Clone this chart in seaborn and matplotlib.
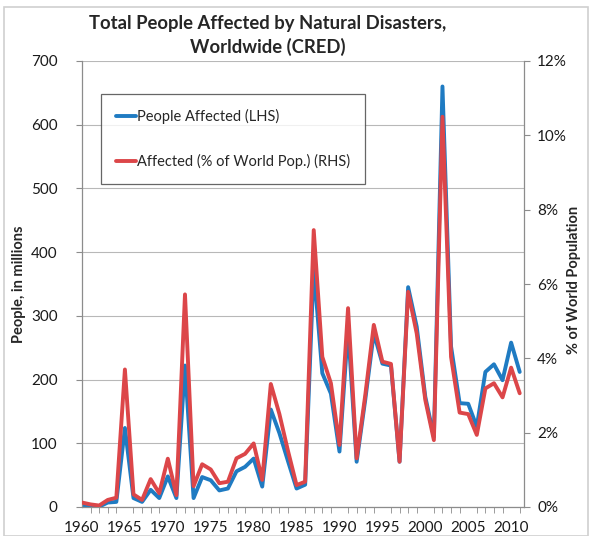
import matplotlib
matplotlib.use("Agg")
import matplotlib.pyplot as plt
import matplotlib.ticker as mticker
from matplotlib.patches import Rectangle
import seaborn as sns
import pandas as pd

years = list(range(1960, 2012))
people_affected_millions = [
    3, 1.5, 0.5, 7, 8, 124, 14, 8, 27, 14,
    48, 14, 222, 14, 47, 42, 26, 29, 56, 63,
    76, 32, 153, 116, 72, 29, 35, 375, 210, 178,
    87, 280, 71, 168, 273, 225, 222, 71, 345, 283,
    173, 110, 660, 252, 163, 162, 126, 212, 224, 199,
    258, 212,
]
pct_world_pop = [
    0.12, 0.07, 0.04, 0.19, 0.25, 3.70, 0.34, 0.19, 0.75, 0.37,
    1.30, 0.32, 5.72, 0.56, 1.15, 1.01, 0.64, 0.68, 1.31, 1.43,
    1.71, 0.73, 3.31, 2.50, 1.51, 0.59, 0.68, 7.45, 4.04, 3.33,
    1.67, 5.35, 1.31, 3.00, 4.90, 3.91, 3.85, 1.22, 5.79, 4.67,
    2.88, 1.80, 10.50, 4.04, 2.54, 2.50, 1.94, 3.19, 3.33, 2.95,
    3.75, 3.06,
]
left_ticks = [0, 100, 200, 300, 400, 500, 600, 700]
right_ticks = [0, 2, 4, 6, 8, 10, 12]
year_ticks = [1960, 1965, 1970, 1975, 1980, 1985, 1990, 1995, 2000, 2005, 2010]

df = pd.DataFrame({"year": years, "people": people_affected_millions, "pct": pct_world_pop})

sns.set_style("white")
plt.rcParams["font.family"] = ["Lato", "DejaVu Sans"]

BLUE = "#1f7bc2"
RED = "#dc4649"
GREY = "#8c8c8c"

fig = plt.figure(figsize=(5.9, 5.36), dpi=100)
ax = fig.add_axes([82 / 590, 1 - 507 / 536, (524 - 82) / 590, (507 - 61) / 536])
ax2 = ax.twinx()

sns.lineplot(data=df, x="year", y="people", ax=ax, color=BLUE, linewidth=2.8,
             label="People Affected (LHS)", legend=False)
sns.lineplot(data=df, x="year", y="pct", ax=ax2, color=RED, linewidth=2.8,
             label="Affected (% of World Pop.) (RHS)", legend=False)

ax.set_xlim(1960, 2011.5)
ax.set_ylim(0, 700)
ax2.set_ylim(0, 12)

ax.set_yticks(left_ticks)
ax2.set_yticks(right_ticks)
ax2.yaxis.set_major_formatter(mticker.FuncFormatter(lambda v, p: f"{v:.0f}%"))
ax.set_xticks(year_ticks)
ax.xaxis.set_minor_locator(mticker.MultipleLocator(1))

ax.grid(axis="y", color="#b8b8b8", linewidth=0.8)
ax.set_axisbelow(True)

for a in (ax, ax2):
    for s in a.spines.values():
        s.set_visible(False)
ax.spines["left"].set_visible(True)
ax.spines["bottom"].set_visible(True)
ax2.spines["right"].set_visible(True)
for s in (ax.spines["left"], ax.spines["bottom"], ax2.spines["right"]):
    s.set_color(GREY)
    s.set_linewidth(0.9)

ax.tick_params(axis="y", which="major", direction="out", length=4.5, color=GREY,
               labelsize=11, labelcolor="#1a1a1a", pad=13)
ax2.tick_params(axis="y", which="major", direction="out", length=4.5, color=GREY,
                labelsize=11, labelcolor="#1a1a1a", pad=5)
ax.tick_params(axis="x", which="major", direction="out", length=4, color=GREY,
               labelsize=11, labelcolor="#1a1a1a", pad=6)
ax.tick_params(axis="x", which="minor", direction="out", length=4, color=GREY, bottom=True)

ax.set_xlabel("")
ax.set_ylabel("People, in millions", fontsize=10.5, fontweight="bold")
ax2.set_ylabel("% of World Population", fontsize=10.5, fontweight="bold", rotation=90)
ax.yaxis.set_label_coords((26 - 82) / 442, 0.5)
ax2.yaxis.set_label_coords((567 - 82) / 442, 0.51)

fig.text(268 / 590, 1 - 24 / 536, "Total People Affected by Natural Disasters,",
         ha="center", va="center", fontsize=13.3, fontweight="bold")
fig.text(268 / 590, 1 - 47 / 536, "Worldwide (CRED)",
         ha="center", va="center", fontsize=13.3, fontweight="bold")

handles = ax.get_lines()[:1] + ax2.get_lines()[:1]
leg = ax.legend(handles, [h.get_label() for h in handles],
                loc="upper left", bbox_to_anchor=((101 - 82) / 442, 1 - (94 - 61) / 446),
                frameon=True, fancybox=False, fontsize=10.5, handlelength=1.4,
                handletextpad=0.1, labelspacing=2.1, borderpad=1.0, borderaxespad=0)
leg.get_frame().set_edgecolor("#404040")
leg.get_frame().set_linewidth(0.9)
leg.set_zorder(5)

fig.patches.append(Rectangle((4 / 590, 0), 584 / 590, 1 - 7 / 536, transform=fig.transFigure,
                             fill=False, edgecolor="#d0d0d0", linewidth=1.2))

fig.savefig("out.png", dpi=100)
